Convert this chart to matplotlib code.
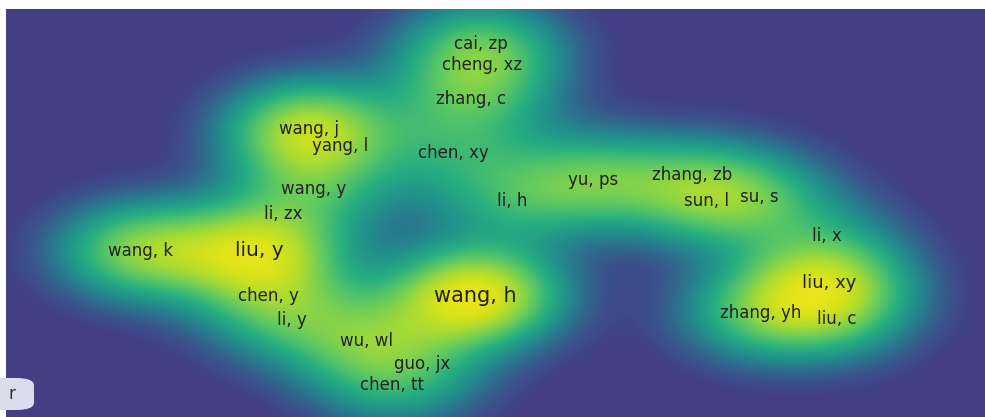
import numpy as np
import matplotlib.pyplot as plt
from matplotlib.colors import LinearSegmentedColormap
from matplotlib.patches import FancyBboxPatch

# author label, map position (x right, y down) and density level at that author
authors = ["cai, zp", "cheng, xz", "zhang, c", "wang, j", "yang, l", "chen, xy",
           "wang, y", "li, zx", "yu, ps", "li, h", "zhang, zb", "sun, l", "su, s",
           "li, x", "wang, k", "liu, y", "wang, h", "liu, xy", "zhang, yh", "liu, c",
           "chen, y", "li, y", "wu, wl", "guo, jx", "chen, tt"]
pos_x = [481, 482, 471, 309, 340, 453, 314, 283, 593, 512, 692, 706, 759,
         827, 141, 259, 475, 829, 761, 837, 268, 292, 367, 422, 392]
pos_y = [44, 65, 99, 129, 146, 153, 189, 214, 180, 201, 175, 201, 197,
         236, 251, 250, 296, 283, 313, 319, 296, 320, 341, 364, 385]
level = [0.62, 0.70, 0.62, 0.85, 0.78, 0.48, 0.62, 0.58, 0.66, 0.52, 0.68, 0.75, 0.66,
         0.52, 0.74, 0.97, 1.00, 0.95, 0.76, 0.78, 0.78, 0.66, 0.72, 0.60, 0.52]
font_size = [12, 12, 12, 12, 12, 12, 12, 12, 12, 12, 12, 12, 12,
             12, 12, 14.5, 15, 13, 12, 12, 12, 12, 12, 12, 12]

W, H = 979, 408
X0, Y0 = 6, 9
SX, SY = 58, 34


def kernel(dx, dy):
    return np.exp(-(dx ** 2 / (2 * SX ** 2) + dy ** 2 / (2 * SY ** 2)))


px = np.array(pos_x, float)
py = np.array(pos_y, float)
target = np.array(level)

# kernel weights so the summed density hits each author's level
K = kernel(px[:, None] - px[None, :], py[:, None] - py[None, :])
w = target.copy()
for _ in range(500):
    w *= target / (K @ w)

gx = np.arange(W) + X0 + 0.5
gy = np.arange(H) + Y0 + 0.5
GX, GY = np.meshgrid(gx, gy)
dens = np.zeros_like(GX)
for x, y, wi in zip(px, py, w):
    dens += wi * kernel(GX - x, GY - y)

cmap = LinearSegmentedColormap.from_list("density", [
    (0.00, "#443f85"),
    (0.03, "#433f86"),
    (0.09, "#3b528b"),
    (0.18, "#2c728e"),
    (0.28, "#21918c"),
    (0.42, "#28ae80"),
    (0.58, "#5ec962"),
    (0.76, "#a8db34"),
    (0.90, "#d4e21a"),
    (1.00, "#ebe51a"),
])

fig = plt.figure(figsize=(9.85, 4.17), dpi=100)
ax = fig.add_axes([X0 / 985, 0, W / 985, H / 417])
ax.imshow(dens, cmap=cmap, vmin=0, vmax=1.0, extent=(X0, X0 + W, Y0 + H, Y0),
          interpolation="bilinear", aspect="auto")
ax.set_xlim(X0, X0 + W)
ax.set_ylim(Y0 + H, Y0)
ax.axis("off")

for name, x, y, fs in zip(authors, pos_x, pos_y, font_size):
    ax.text(x, y, name, ha="center", va="center", fontsize=fs,
            family="DejaVu Sans", color="#222222")

# partly hidden toolbar button at the lower left
btn = FancyBboxPatch((-20 / 985, 7 / 417), 54 / 985, 32 / 417,
                     boxstyle="round,pad=0,rounding_size=0.018",
                     transform=fig.transFigure, facecolor="#dcdcec",
                     edgecolor="none", zorder=5)
fig.patches.append(btn)
fig.text(8 / 985, 23 / 417, "r", fontsize=12, color="#333333",
         family="DejaVu Sans", va="center", zorder=6)

fig.savefig("out.png", dpi=100, facecolor="white")
